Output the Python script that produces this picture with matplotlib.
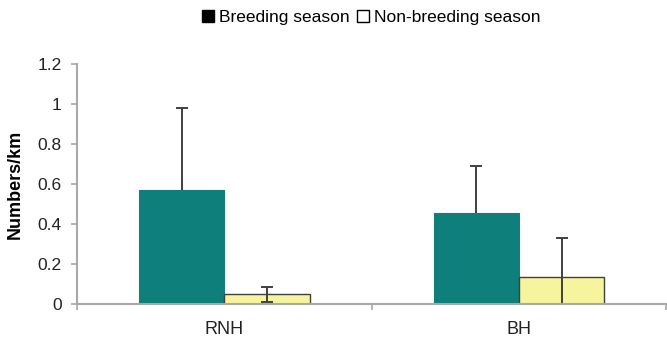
import matplotlib.pyplot as plt
import numpy as np
from matplotlib.patches import Patch

plt.rcParams['font.family'] = ['Liberation Sans', 'DejaVu Sans']

# 데이터
sites = ['RNH', 'BH']
breeding = [0.57, 0.453]
breeding_err = [0.408, 0.237]
nonbreeding = [0.048, 0.137]
nonbreeding_err = [0.037, 0.195]

teal = '#0e7f7b'
yellow = '#f6f49c'
edge = '#404040'
axis_gray = '#a8a8a8'

fig = plt.figure(figsize=(6.67, 3.37), dpi=100)
ax = fig.add_axes([0.1154, 0.0979, 0.8836, 0.7122])

x = np.arange(len(sites)) + 0.5
width = 0.29

ax.bar(x - width/2, breeding, width=width, color=teal, edgecolor=teal, linewidth=0.8)
ax.bar(x + width/2, nonbreeding, width=width, color=yellow, edgecolor=edge, linewidth=1.0)

# 번식기 : 위쪽 오차막대만 (아래 cap 숨김)
eb = ax.errorbar(x - width/2, breeding, yerr=[np.zeros(len(sites)), breeding_err],
                 fmt='none', ecolor=edge, elinewidth=1.4, capsize=4, capthick=1.4)
eb[1][0].set_visible(False)
# 비번식기 : 양쪽 오차막대
ax.errorbar(x + width/2, nonbreeding, yerr=nonbreeding_err,
            fmt='none', ecolor=edge, elinewidth=1.4, capsize=4, capthick=1.4)

ax.set_xlim(0, 2)
ax.set_ylim(0, 1.2)
ax.set_yticks([0, 0.2, 0.4, 0.6, 0.8, 1.0, 1.2])
ax.set_yticklabels(['0', '0.2', '0.4', '0.6', '0.8', '1', '1.2'])
ax.set_xticks(x)
ax.set_xticklabels(sites)
ax.set_xticks([0, 1, 2], minor=True)

ax.tick_params(axis='x', which='major', length=0, pad=12, labelsize=13, colors='#222222')
ax.tick_params(axis='x', which='minor', length=4, width=1.2, color=axis_gray, direction='out')
ax.tick_params(axis='y', length=4, width=1.2, color=axis_gray, pad=7, labelsize=12.5, labelcolor='#222222')

for s in ['top', 'right']:
    ax.spines[s].set_visible(False)
for s in ['left', 'bottom']:
    ax.spines[s].set_color(axis_gray)
    ax.spines[s].set_linewidth(1.5)

ax.set_ylabel('Numbers/km', fontsize=13, fontweight='bold', labelpad=10)

handles = [Patch(facecolor='black', edgecolor='black'),
           Patch(facecolor='white', edgecolor='black')]
fig.legend(handles, ['Breeding season', 'Non-breeding season'],
           loc='center', bbox_to_anchor=(0.557, 0.947), ncol=2, frameon=False,
           fontsize=12.5, handlelength=0.7, handleheight=0.7, handletextpad=0.3,
           columnspacing=0.4)

plt.savefig('out.png', dpi=100)
